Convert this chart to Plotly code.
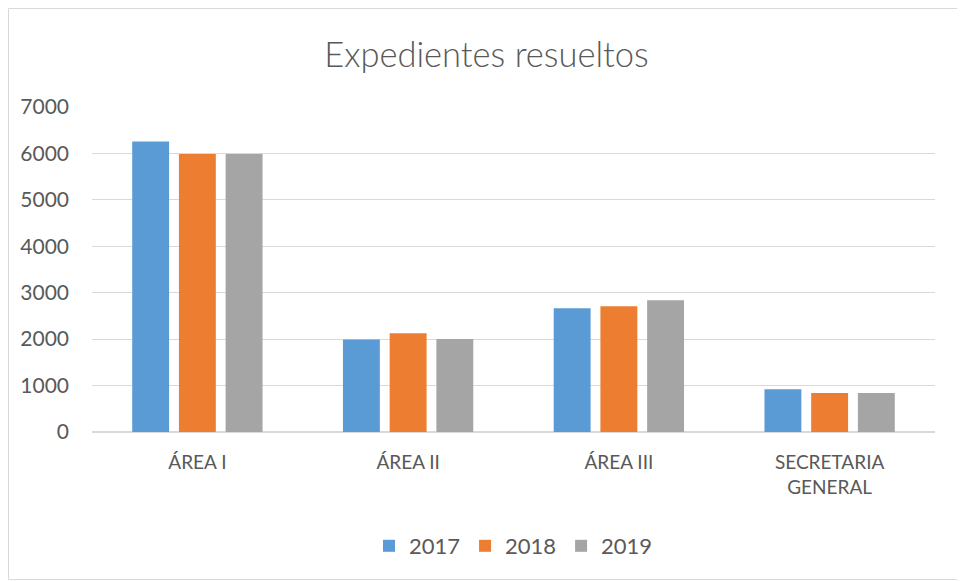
import plotly.graph_objects as go

categories = ["ÁREA I", "ÁREA II", "ÁREA III", "SECRETARIA<br>GENERAL"]
v2017 = [6255, 1990, 2664, 919]
v2018 = [5990, 2126, 2707, 840]
v2019 = [5990, 2003, 2836, 840]
years = ["2017", "2018", "2019"]
colors = ["#5B9BD5", "#ED7D31", "#A5A5A5"]
y_ticks = [0, 1000, 2000, 3000, 4000, 5000, 6000, 7000]

fig = go.Figure()
for name, vals, c in zip(years, [v2017, v2018, v2019], colors):
    fig.add_trace(go.Bar(x=categories, y=vals, name=name, marker=dict(color=c, line=dict(width=0))))

OFF = 8  # default page body margin
W, H = 965 - OFF, 581 - OFF
ml, mr, mt, mb = 92 - OFF, 30, 107 - OFF, 149
pw, ph = W - ml - mr, H - mt - mb

fig.update_layout(
    width=W, height=H,
    margin=dict(l=ml, r=mr, t=mt, b=mb),
    paper_bgcolor="white", plot_bgcolor="white",
    font=dict(family="Lato, Open Sans, sans-serif", color="#595959", size=18),
    title=dict(text="Expedientes resueltos", x=0.5, xanchor="center", y=1 - (55 - OFF) / H, yanchor="middle",
               font=dict(size=34.5, color="#595959", family="Lato, sans-serif", weight=300)),
    barmode="group", bargap=0.335, bargroupgap=0.21,
    showlegend=True,
    legend=dict(orientation="h", x=0.5, xanchor="center", y=-(546 - 432) / ph, yanchor="middle",
                font=dict(size=22), itemwidth=30, traceorder="normal"),
    xaxis=dict(showgrid=False, showline=True, linecolor="#D9D9D9", linewidth=1, ticks="",
               tickfont=dict(size=19), ticklabelstandoff=13),
    yaxis=dict(range=[0, 7000], tickvals=y_ticks, showgrid=True, gridcolor="#D9D9D9", gridwidth=1,
               zeroline=True, zerolinecolor="#D9D9D9", showline=False, ticks="",
               tickfont=dict(size=21), ticklabelstandoff=22),
    shapes=[dict(type="rect", xref="paper", yref="paper",
                 x0=-(ml - 0.5) / pw, x1=1 + (mr - 1.5) / pw,
                 y0=-(mb - 1.5) / ph, y1=1 + (mt - 0.5) / ph,
                 line=dict(color="#D9D9D9", width=1), fillcolor="rgba(0,0,0,0)", layer="below")],
)
fig.write_html("out.html")
